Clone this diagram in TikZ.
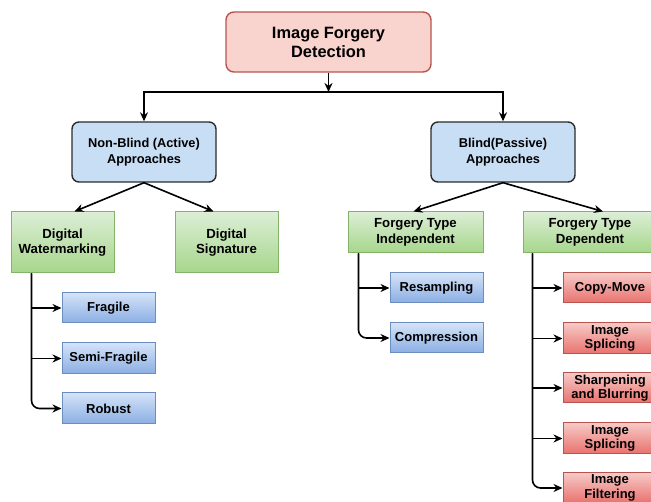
\documentclass[tikz,border=0pt]{standalone}
\usepackage{fontspec}
\setmainfont{Liberation Sans}
\usetikzlibrary{arrows.meta,calc}
\definecolor{topfill}{HTML}{F9D3CE}
\definecolor{topdraw}{HTML}{B85450}
\definecolor{appfill}{HTML}{C8DEF5}
\definecolor{appdraw}{HTML}{2B2B2B}
\definecolor{gtop}{HTML}{DCEED6}
\definecolor{gbot}{HTML}{A6D68B}
\definecolor{gdraw}{HTML}{82B366}
\definecolor{btop}{HTML}{D4E3F8}
\definecolor{bbot}{HTML}{8AAEE3}
\definecolor{bdraw}{HTML}{6C8EBF}
\definecolor{rtop}{HTML}{F6C9C6}
\definecolor{rbot}{HTML}{E9716D}
\definecolor{rdraw}{HTML}{B85450}
\tikzset{
  topbox/.style={draw=topdraw, line width=1.4pt, fill=topfill, rounded corners=8pt,
    minimum width=205pt, minimum height=60pt, align=center,
    font=\fontsize{16.4}{19}\selectfont\bfseries},
  appbox/.style={draw=appdraw, line width=1.4pt, fill=appfill, rounded corners=7pt,
    minimum width=144pt, minimum height=60pt, align=center,
    font=\fontsize{12.8}{16}\selectfont\bfseries},
  greenbox/.style={draw=gdraw, line width=1pt, top color=gtop, bottom color=gbot,
    align=center, inner sep=0pt, font=\fontsize{13.2}{15.5}\selectfont\bfseries},
  bluebox/.style={draw=bdraw, line width=1pt, top color=btop, bottom color=bbot,
    minimum width=93pt, minimum height=30pt, align=center, inner sep=0pt,
    font=\fontsize{13}{14.5}\selectfont\bfseries},
  redbox/.style={draw=rdraw, line width=1pt, top color=rtop, bottom color=rbot,
    minimum width=94pt, minimum height=30pt, align=center, inner sep=0pt,
    font=\fontsize{13}{14.5}\selectfont\bfseries},
  arr/.style={line width=1.6pt, -{Stealth[length=9pt,width=8pt]}},
}
\begin{document}
\begin{tikzpicture}[x=1pt,y=-1pt]
\useasboundingbox[fill=white] (0,0) rectangle (651,502);
% level 0
\node[topbox] (top) at (328.5,42) {Image Forgery\\Detection};
% level 1
\node[appbox] (nb) at (144,152) {Non-Blind (Active)\\Approaches};
\node[appbox] (bl) at (503,152) {Blind(Passive)\\Approaches};
% level 2
\node[greenbox, minimum width=103pt, minimum height=61pt] (dw) at (62.5,242.5) {Digital\\Watermarking};
\node[greenbox, minimum width=103pt, minimum height=61pt] (ds) at (226.5,242.5) {Digital\\Signature};
\node[greenbox, minimum width=135pt, minimum height=41pt] (fi) at (415.5,232.5) {Forgery Type\\Independent};
\node[greenbox, minimum width=134pt, minimum height=41pt] (fd) at (590,232.5) {Forgery Type\\Dependent};
% level 3
\node[bluebox] (fr) at (108.5,308) {Fragile};
\node[bluebox, minimum height=31pt] (sf) at (108.5,358.5) {Semi-Fragile};
\node[bluebox, minimum height=31pt] (rb) at (108.5,408.5) {Robust};
\node[bluebox] (rs) at (436.5,288) {Resampling};
\node[bluebox] (cp) at (436.5,338) {Compression};
\node[redbox] (cm) at (610,288) {Copy-Move};
\node[redbox, minimum height=31pt] (is1) at (610,338.5) {Image\\Splicing};
\node[redbox] (sb) at (610,388) {Sharpening\\and Blurring};
\node[redbox, minimum height=31pt] (is2) at (610,438.5) {Image\\Splicing};
\node[redbox] (ifl) at (610,488) {Image\\Filtering};
% connectors
\coordinate (j) at (328.5,92);
\draw[arr] (top) -- (j);
\draw[arr] (j) -| (nb);
\draw[arr] (j) -| (bl);
\draw[arr] (nb.south) -- ([xshift=12pt]dw.north);
\draw[arr] (nb.south) -- ([xshift=-13pt]ds.north);
\draw[arr] (bl.south) -- ([xshift=-2pt]fi.north);
\draw[arr] (bl.south) -- ([xshift=13pt]fd.north);
\coordinate (dwb) at ([xshift=21pt]dw.south west);
\draw[arr] (dwb) |- (fr.west);
\draw[arr] (dwb) |- (sf.west);
\draw[arr, rounded corners=8pt] (dwb) |- (rb.west);
\coordinate (fib) at ([xshift=11pt]fi.south west);
\draw[arr] (fib) |- (rs.west);
\draw[arr, rounded corners=8pt] (fib) |- (cp.west);
\coordinate (fdb) at ([xshift=10pt]fd.south west);
\draw[arr] (fdb) |- (cm.west);
\draw[arr] (fdb) |- (is1.west);
\draw[arr] (fdb) |- (sb.west);
\draw[arr] (fdb) |- (is2.west);
\draw[arr, rounded corners=8pt] (fdb) |- (ifl.west);
\end{tikzpicture}
\end{document}
